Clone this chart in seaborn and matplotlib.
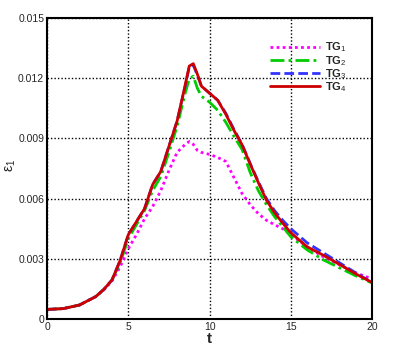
import numpy as np
import pandas as pd
import seaborn as sns
import matplotlib.pyplot as plt
from matplotlib.ticker import MultipleLocator, FuncFormatter

sns.set_style("white")
plt.rcParams["font.family"] = ["Liberation Sans", "DejaVu Sans"]
plt.rcParams["mathtext.fontset"] = "custom"
plt.rcParams["mathtext.rm"] = "Liberation Sans"
plt.rcParams["mathtext.it"] = "Liberation Sans"
plt.rcParams["mathtext.bf"] = "Liberation Sans:bold"

t = [0, 1, 2, 3, 3.5, 4, 4.5, 5, 5.5, 6, 6.5, 7, 7.5, 8, 8.5, 8.75, 9, 9.25,
     9.5, 10, 10.5, 11, 11.5, 12, 12.5, 13, 13.5, 14, 14.5, 15, 16, 17, 18, 19, 20]

tg1 = [0.00048, 0.00052, 0.00070, 0.00112, 0.00145, 0.00190, 0.00260, 0.00350,
       0.00420, 0.00500, 0.00560, 0.00640, 0.00740, 0.00830, 0.00870, 0.00884,
       0.00870, 0.00840, 0.00830, 0.00820, 0.00805, 0.00785, 0.00705, 0.00625,
       0.00570, 0.00525, 0.00492, 0.00470, 0.00450, 0.00420, 0.00360, 0.00310,
       0.00270, 0.00230, 0.00200]
tg2 = [0.00048, 0.00052, 0.00070, 0.00112, 0.00148, 0.00195, 0.00280, 0.00400,
       0.00470, 0.00540, 0.00640, 0.00710, 0.00830, 0.00960, 0.01125, 0.01195,
       0.01210, 0.01150, 0.01110, 0.01080, 0.01040, 0.00980, 0.00910, 0.00845,
       0.00730, 0.00640, 0.00570, 0.00510, 0.00460, 0.00410, 0.00345, 0.00295,
       0.00255, 0.00215, 0.00180]
tg3 = [0.00048, 0.00052, 0.00070, 0.00112, 0.00148, 0.00195, 0.00292, 0.00420,
       0.00485, 0.00550, 0.00670, 0.00735, 0.00860, 0.00985, 0.01160, 0.01255,
       0.01265, 0.01215, 0.01160, 0.01125, 0.01090, 0.01025, 0.00945, 0.00870,
       0.00775, 0.00685, 0.00600, 0.00540, 0.00492, 0.00450, 0.00380, 0.00330,
       0.00280, 0.00230, 0.00182]
tg4 = [0.00048, 0.00052, 0.00070, 0.00112, 0.00148, 0.00195, 0.00292, 0.00420,
       0.00485, 0.00550, 0.00670, 0.00735, 0.00860, 0.00985, 0.01165, 0.01260,
       0.01272, 0.01220, 0.01160, 0.01125, 0.01090, 0.01020, 0.00940, 0.00868,
       0.00772, 0.00680, 0.00592, 0.00530, 0.00478, 0.00430, 0.00360, 0.00318,
       0.00272, 0.00225, 0.00182]

series = [("TG$_1$", tg1, "#ff00ff", (0, (1, 1.2))),
          ("TG$_2$", tg2, "#00cc00", (0, (5, 1.5, 1, 1.5))),
          ("TG$_3$", tg3, "#3333ff", (0, (3.5, 1.5))),
          ("TG$_4$", tg4, "#cc0000", "-")]

fig = plt.figure(figsize=(3.95, 3.51), dpi=100)
ax = fig.add_axes([0.119, 0.091, 0.823, 0.858])

for name, vals, col, ls in series:
    df = pd.DataFrame({"t": t, "e": vals})
    sns.lineplot(data=df, x="t", y="e", ax=ax, color=col, linestyle=ls,
                 linewidth=2, label=name)

ax.set_xlim(0, 20)
ax.set_ylim(0, 0.015)
ax.xaxis.set_major_locator(MultipleLocator(5))
ax.xaxis.set_minor_locator(MultipleLocator(1))
ax.yaxis.set_major_locator(MultipleLocator(0.003))
ax.yaxis.set_minor_locator(MultipleLocator(0.0006))
ax.xaxis.set_major_formatter(FuncFormatter(lambda v, p: f"{v:g}"))
ax.yaxis.set_major_formatter(FuncFormatter(lambda v, p: "0" if v == 0 else f"{v:.3f}"))
ax.tick_params(which="both", direction="in", top=False, right=False,
               labelsize=7.5, pad=2)
ax.tick_params(which="major", length=5, width=1)
ax.tick_params(which="minor", length=3, width=0.8)
ax.grid(True, which="major", color="black", linestyle=(0, (1, 1.5)), linewidth=1)
for s in ax.spines.values():
    s.set_linewidth(1.5)
    s.set_color("black")

ax.set_xlabel("t", fontsize=11, fontweight="bold", labelpad=0)
ax.set_ylabel("ε$_1$", fontsize=10)
ax.yaxis.set_label_coords(-0.09, 0.51)

leg = ax.legend(loc="upper left", bbox_to_anchor=(0.686, 0.925), frameon=False,
                borderpad=0, borderaxespad=0,
                handlelength=4.5, handletextpad=0.45, labelspacing=-0.05,
                prop={"size": 8, "weight": "bold"})

fig.savefig("out.png", dpi=100)
